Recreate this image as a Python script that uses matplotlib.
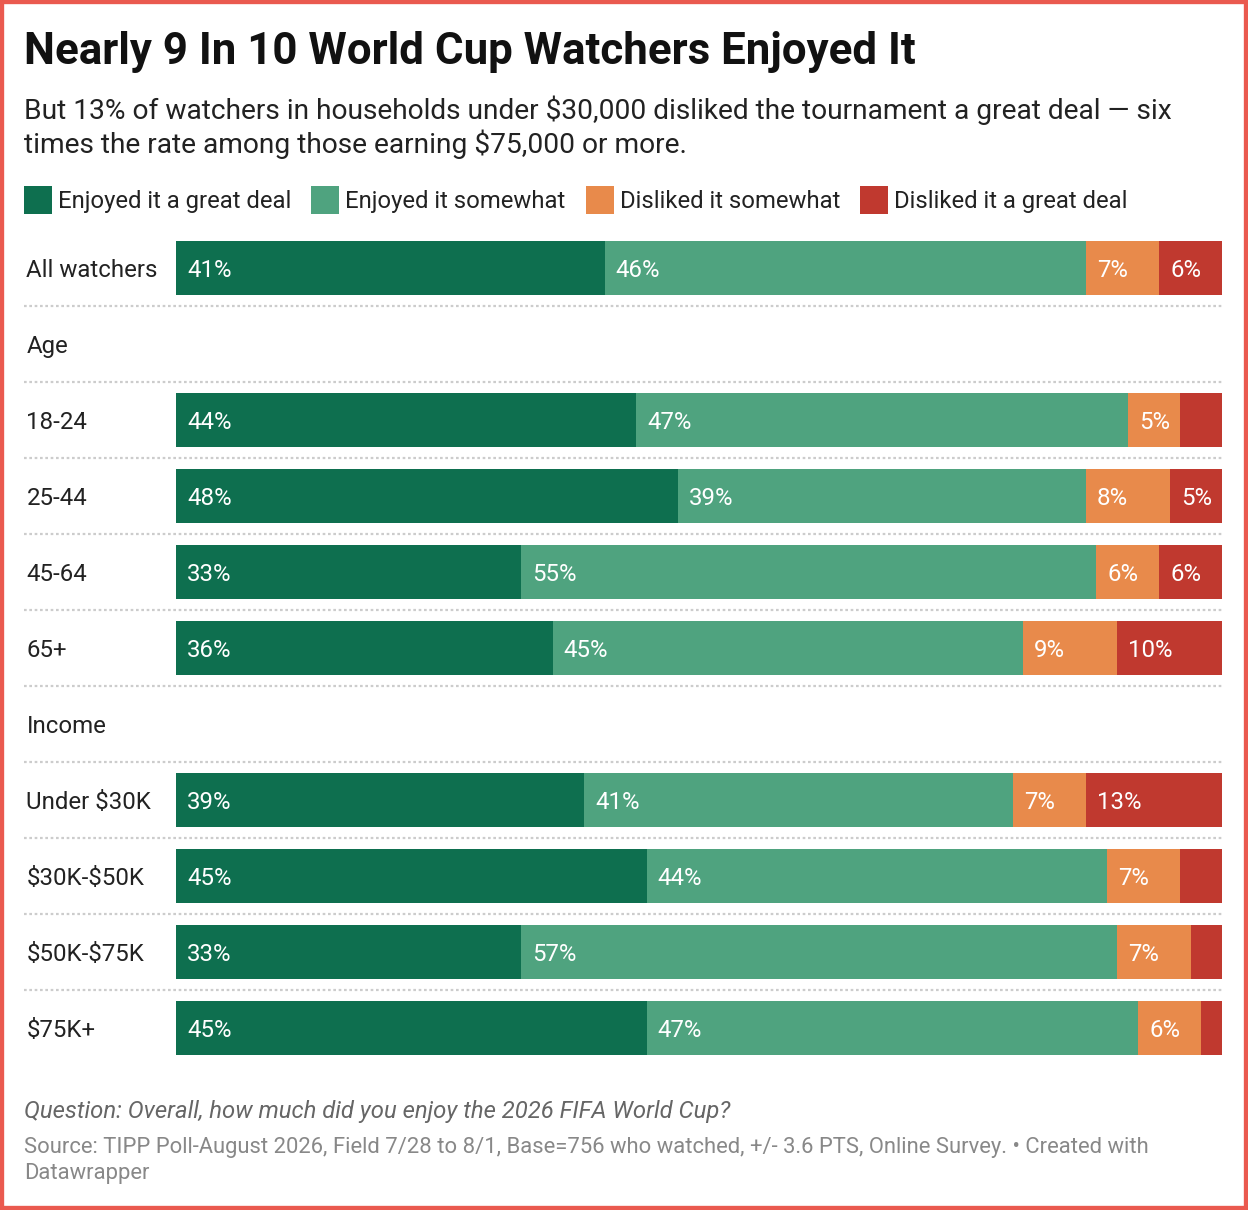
import matplotlib
matplotlib.use("Agg")
import matplotlib.pyplot as plt
from matplotlib.patches import Rectangle

plt.rcParams['font.family'] = ['Roboto', 'DejaVu Sans']
plt.rcParams['text.parse_math'] = False

rows = ["All watchers", "Age", "18-24", "25-44", "45-64", "65+",
        "Income", "Under $30K", "$30K-$50K", "$50K-$75K", "$75K+"]
headings = ["Age", "Income"]
series = ["Enjoyed it a great deal", "Enjoyed it somewhat",
          "Disliked it somewhat", "Disliked it a great deal"]
great_deal = [41, None, 44, 48, 33, 36, None, 39, 45, 33, 45]
somewhat = [46, None, 47, 39, 55, 45, None, 41, 44, 57, 47]
dis_somewhat = [7, None, 5, 8, 6, 9, None, 7, 7, 7, 6]
dis_great = [6, None, 4, 5, 6, 10, None, 13, 4, 3, 2]
colors = ["#0e6f4f", "#4fa37f", "#e88a4b", "#c0392f"]

W, H = 1248, 1210
fig = plt.figure(figsize=(W / 100, H / 100), dpi=100)

def fx(px):
    return px / W

def fy(py):
    return 1 - py / H

# frame
fig.patches.append(Rectangle((0, 0), 1, 1, transform=fig.transFigure,
                             fill=False, edgecolor="#ea5a4f", linewidth=6))

fig.text(fx(24), fy(64), "Nearly 9 In 10 World Cup Watchers Enjoyed It",
         fontsize=31.6, fontweight="bold", color="#111111", va="baseline")
fig.text(fx(24), fy(119), "But 13% of watchers in households under $30,000 disliked the tournament a great deal \u2014 six",
         fontsize=20.25, color="#222222", va="baseline")
fig.text(fx(24), fy(153), "times the rate among those earning $75,000 or more.",
         fontsize=20.25, color="#222222", va="baseline")

# legend
renderer = fig.canvas.get_renderer()
lx = 24
for name, c in zip(series, colors):
    fig.patches.append(Rectangle((fx(lx), fy(214)), fx(28), 28 / H,
                                 transform=fig.transFigure, facecolor=c, edgecolor="none"))
    t = fig.text(fx(lx + 34), fy(208), name, fontsize=17.2, color="#222222", va="baseline")
    bb = t.get_window_extent(renderer)
    lx = bb.x1 + 20

# bars
ax = fig.add_axes([fx(176), fy(1066), fx(1222 - 176), (1066 - 230) / H])
ax.set_xlim(0, 100)
ax.set_ylim(len(rows) - 0.5, -0.5)
ax.axis("off")

values = [great_deal, somewhat, dis_somewhat, dis_great]
label_x = -14.3  # left margin for row labels (data units)
for i, name in enumerate(rows):
    ax.text(label_x, i, name, fontsize=17.3, color="#222222", va="center_baseline", ha="left")
    if name in headings:
        continue
    left = 0
    for vals, c in zip(values, colors):
        v = vals[i]
        ax.barh(i, v, left=left, height=54 / 76, color=c, edgecolor="none")
        if v >= 5:
            ax.text(left + 1.05, i, f"{v}%", fontsize=17.3, color="white",
                    va="center_baseline", ha="left")
        left += v

for i in range(len(rows) - 1):
    ax.hlines(i + 0.5, -14.5, 100, colors="#cccccc", linewidth=1.6,
              linestyles=(0, (1.2, 1.2)), clip_on=False)

fig.text(fx(24), fy(1118), "Question: Overall, how much did you enjoy the 2026 FIFA World Cup?",
         fontsize=17.2, style="italic", color="#666666", va="baseline")
fig.text(fx(24), fy(1153), "Source: TIPP Poll-August 2026, Field 7/28 to 8/1, Base=756 who watched, +/- 3.6 PTS, Online Survey. \u2022 Created with",
         fontsize=15.87, color="#888888", va="baseline")
fig.text(fx(24), fy(1179), "Datawrapper", fontsize=15.87, color="#888888", va="baseline")

fig.savefig("out.png", dpi=100, facecolor="white")
